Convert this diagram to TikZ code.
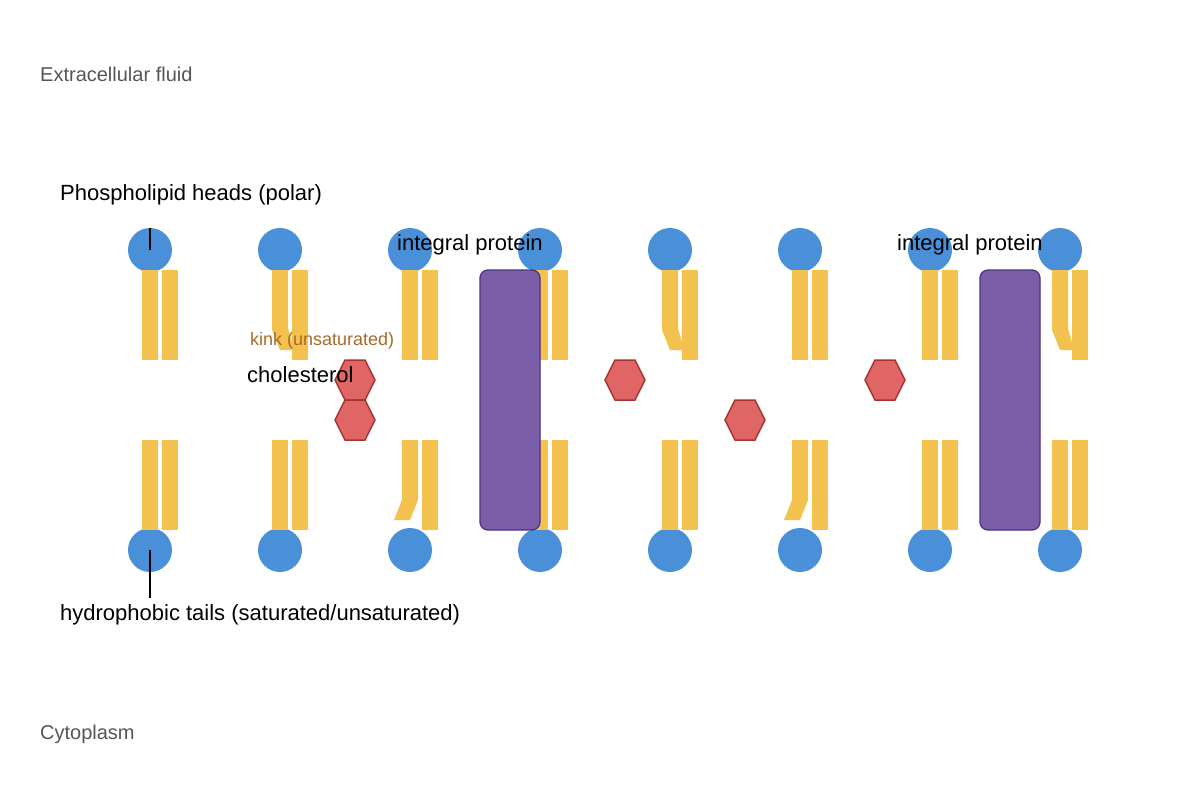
\documentclass[tikz,border=0pt]{standalone}
\usepackage{fontspec}
\setmainfont{Liberation Sans}
\begin{document}
\begin{tikzpicture}[x=1pt,y=-1pt,
  head/.style={fill=headc},
  tail/.style={fill=tailc},
  hex/.style={fill=hexc,draw=hexd,line width=1.5pt},
  prot/.style={fill=protc,draw=protd,line width=1.3pt,rounded corners=8pt},
  lab/.style={anchor=west,inner xsep=0pt,font=\fontsize{22}{26}\selectfont},
  side/.style={anchor=west,inner xsep=0pt,text=sidec,font=\fontsize{20}{24}\selectfont}]
\definecolor{headc}{HTML}{4A90D9}
\definecolor{tailc}{HTML}{F2C14E}
\definecolor{hexc}{HTML}{E06666}
\definecolor{hexd}{HTML}{A83232}
\definecolor{protc}{HTML}{7B5EA7}
\definecolor{protd}{HTML}{4B3480}
\definecolor{sidec}{HTML}{555555}
\definecolor{kinkc}{HTML}{A8692A}
\useasboundingbox (0,0) rectangle (1200,800);
% heads
\foreach \i in {0,...,7}{
  \pgfmathsetmacro\cx{150+130*\i}
  \fill[head] (\cx,250) circle (22);
  \fill[head] (\cx,550) circle (22);
}
% tails
\foreach \i in {0,...,7}{
  \pgfmathsetmacro\cx{150+130*\i}
  \fill[tail] (\cx+12,270) rectangle (\cx+28,360);
  \fill[tail] (\cx+12,440) rectangle (\cx+28,530);
}
\foreach \cx in {150,410,540,800,930}{
  \fill[tail] (\cx-8,270) rectangle (\cx+8,360);}
\foreach \cx in {280,670,1060}{
  \fill[tail] (\cx-8,270) -- (\cx+8,270) -- (\cx+8,328) -- (\cx+14,350) -- (\cx,350) -- (\cx-8,330) -- cycle;}
\foreach \cx in {150,280,540,670,930,1060}{
  \fill[tail] (\cx-8,440) rectangle (\cx+8,530);}
\foreach \cx in {410,800}{
  \fill[tail] (\cx-8,440) -- (\cx+8,440) -- (\cx+8,500) -- (\cx,520) -- (\cx-16,520) -- (\cx-8,500) -- cycle;}
% proteins
\node[prot,minimum width=60pt,minimum height=260pt,inner sep=0pt] (p1) at (510,400) {};
\node[prot,minimum width=60pt,minimum height=260pt,inner sep=0pt] (p2) at (1010,400) {};
% cholesterol
\foreach \cx/\cy in {355/380,355/420,625/380,745/420,885/380}{
  \draw[hex] (\cx-10,\cy-20) -- (\cx+10,\cy-20) -- (\cx+20,\cy) -- (\cx+10,\cy+20) -- (\cx-10,\cy+20) -- (\cx-20,\cy) -- cycle;}
% labels
\node[side] (ef) at (40,74) {Extracellular fluid};
\node[side] (cy) at (40,734) {Cytoplasm};
\node[lab] (ph) at (60,195) {Phospholipid heads (polar)};
\node[lab] (ht) at (60,615) {hydrophobic tails (saturated/unsaturated)};
\node[lab] (ip1) at (397,245) {integral protein};
\node[lab] (ip2) at (897,245) {integral protein};
\node[anchor=west,inner xsep=0pt,text=kinkc,font=\fontsize{18}{21}\selectfont] (kk) at (250,341) {kink (unsaturated)};
\node[lab] (ch) at (247,375) {cholesterol};
\coordinate (h1) at (150,250);
\coordinate (t1) at (150,550);
\draw[line width=1.2pt] (150,228) -- (h1);
\draw[line width=1.2pt] (t1) -- (150,598);
\end{tikzpicture}
\end{document}
